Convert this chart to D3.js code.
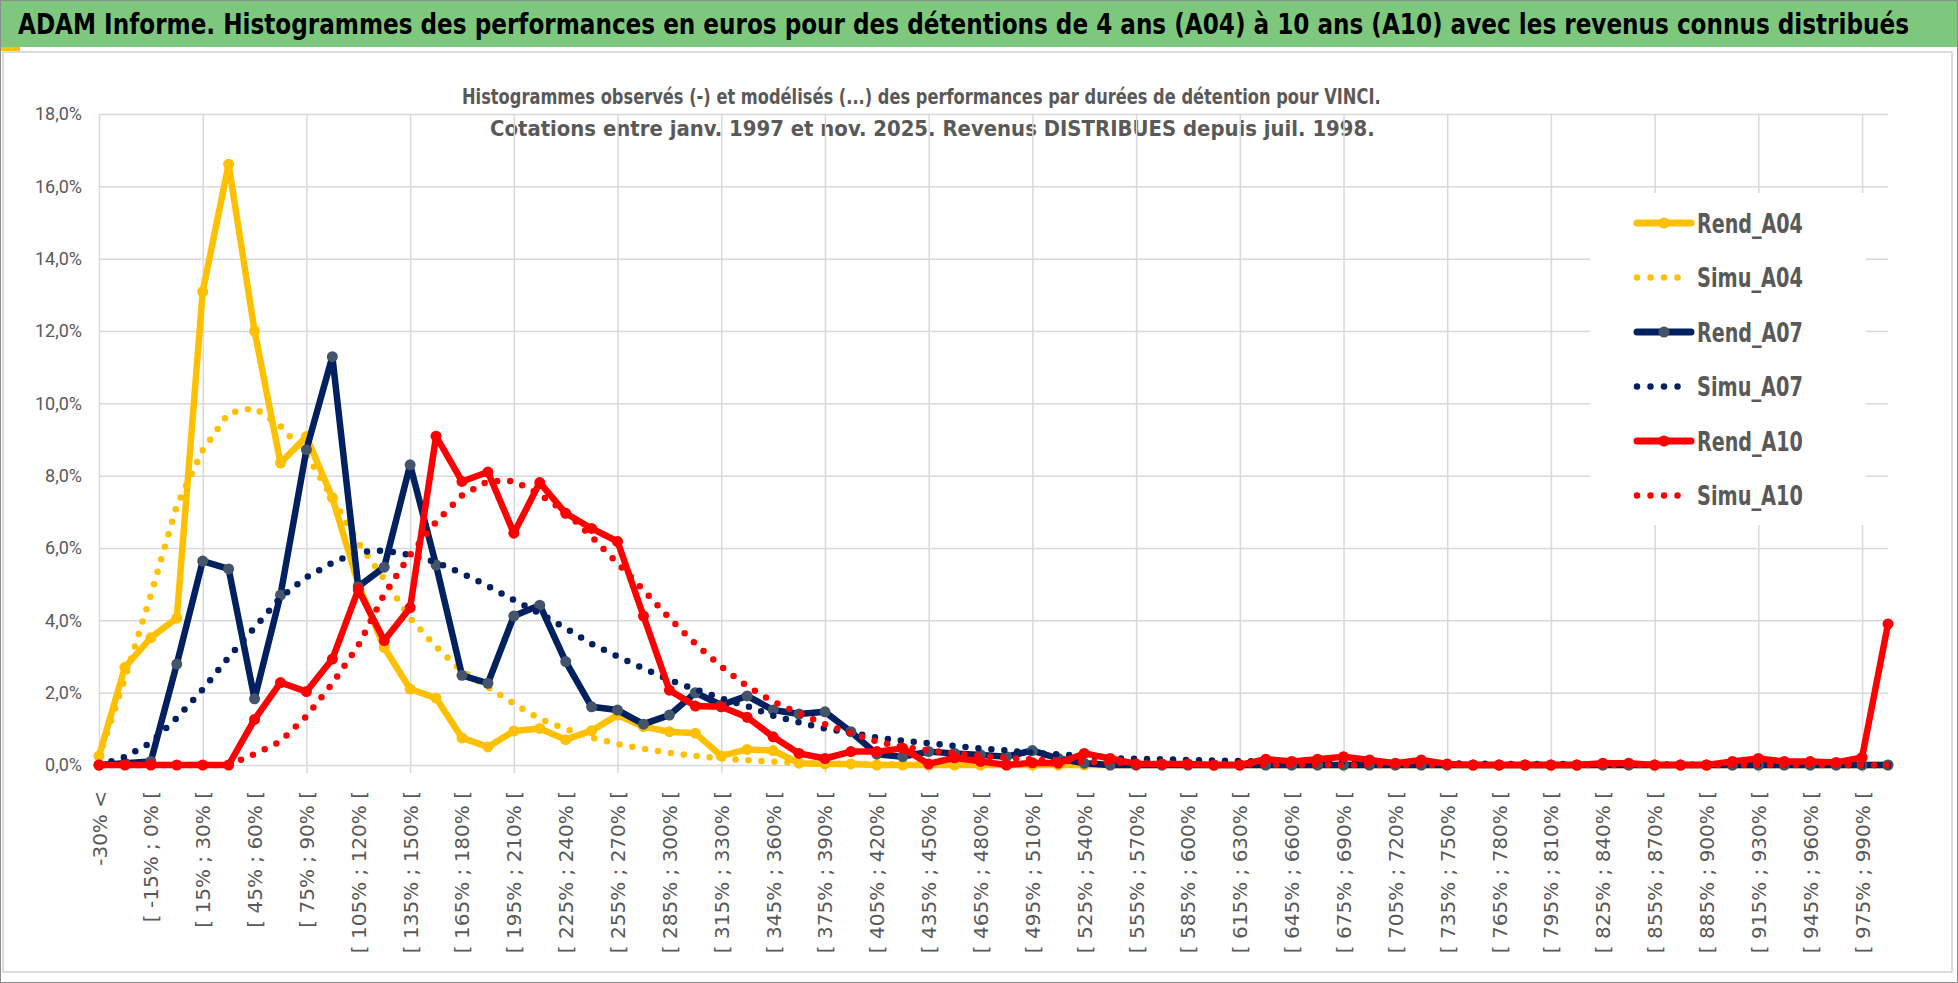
<!DOCTYPE html>
<meta charset="utf-8">
<script src="https://d3js.org/d3.v7.min.js"></script>
<style>
  body { margin: 0; background: #fff; }
</style>
<div id="my_dataviz"></div>
<script>

// categories (return classes, 15% wide)
var categories = [
  "-30% <", "[ -30% ; -15% [", "[ -15% ; 0% [", "[ 0% ; 15% [", "[ 15% ; 30% [",
  "[ 30% ; 45% [", "[ 45% ; 60% [", "[ 60% ; 75% [", "[ 75% ; 90% [", "[ 90% ; 105% [",
  "[ 105% ; 120% [", "[ 120% ; 135% [", "[ 135% ; 150% [", "[ 150% ; 165% [", "[ 165% ; 180% [",
  "[ 180% ; 195% [", "[ 195% ; 210% [", "[ 210% ; 225% [", "[ 225% ; 240% [", "[ 240% ; 255% [",
  "[ 255% ; 270% [", "[ 270% ; 285% [", "[ 285% ; 300% [", "[ 300% ; 315% [", "[ 315% ; 330% [",
  "[ 330% ; 345% [", "[ 345% ; 360% [", "[ 360% ; 375% [", "[ 375% ; 390% [", "[ 390% ; 405% [",
  "[ 405% ; 420% [", "[ 420% ; 435% [", "[ 435% ; 450% [", "[ 450% ; 465% [", "[ 465% ; 480% [",
  "[ 480% ; 495% [", "[ 495% ; 510% [", "[ 510% ; 525% [", "[ 525% ; 540% [", "[ 540% ; 555% [",
  "[ 555% ; 570% [", "[ 570% ; 585% [", "[ 585% ; 600% [", "[ 600% ; 615% [", "[ 615% ; 630% [",
  "[ 630% ; 645% [", "[ 645% ; 660% [", "[ 660% ; 675% [", "[ 675% ; 690% [", "[ 690% ; 705% [",
  "[ 705% ; 720% [", "[ 720% ; 735% [", "[ 735% ; 750% [", "[ 750% ; 765% [", "[ 765% ; 780% [",
  "[ 780% ; 795% [", "[ 795% ; 810% [", "[ 810% ; 825% [", "[ 825% ; 840% [", "[ 840% ; 855% [",
  "[ 855% ; 870% [", "[ 870% ; 885% [", "[ 885% ; 900% [", "[ 900% ; 915% [", "[ 915% ; 930% [",
  "[ 930% ; 945% [", "[ 945% ; 960% [", "[ 960% ; 975% [", "[ 975% ; 990% [", "> 990%"
];

// series values, in %
var rendA04 = [
  0.25, 2.7, 3.52, 4.06, 13.09, 16.61, 12.0, 8.35, 9.08, 7.39,
  5.0, 3.25, 2.1, 1.85, 0.75, 0.5, 0.94, 1.01, 0.7, 0.95,
  1.38, 1.06, 0.92, 0.88, 0.25, 0.43, 0.4, 0.05, 0.03, 0.03,
  0, 0, 0, 0, 0, 0, 0, 0, 0, 0,
  0, 0, 0, 0, 0, 0, 0, 0, 0, 0,
  0, 0, 0, 0, 0, 0, 0, 0, 0, 0,
  0, 0, 0, 0, 0, 0, 0, 0, 0, 0
];
var simuA04 = [
  0.2, 2.4, 4.7, 7.17, 8.7, 9.73, 9.87, 9.37, 8.58, 7.39,
  6.15, 5.14, 4.06, 3.27, 2.6, 2.15, 1.7, 1.27, 1.0, 0.76,
  0.58, 0.45, 0.34, 0.25, 0.18, 0.13, 0.09, 0.06, 0.04, 0.03,
  0.02, 0.02, 0.01, 0.01, 0.01, 0, 0, 0, 0, 0,
  0, 0, 0, 0, 0, 0, 0, 0, 0, 0,
  0, 0, 0, 0, 0, 0, 0, 0, 0, 0,
  0, 0, 0, 0, 0, 0, 0, 0, 0, 0
];
var rendA07 = [
  0, 0.05, 0.1, 2.79, 5.64, 5.42, 1.83, 4.7, 8.72, 11.29,
  4.93, 5.47, 8.3, 5.53, 2.48, 2.26, 4.12, 4.42, 2.86, 1.61,
  1.52, 1.13, 1.38, 2.0, 1.66, 1.91, 1.52, 1.41, 1.47, 0.92,
  0.3, 0.23, 0.37, 0.32, 0.28, 0.23, 0.4, 0.18, 0.05, 0,
  0, 0, 0, 0, 0, 0, 0, 0, 0, 0,
  0, 0, 0, 0, 0, 0, 0, 0, 0, 0,
  0, 0, 0, 0, 0, 0, 0, 0, 0, 0
];
var simuA07 = [
  0, 0.22, 0.62, 1.3, 2.09, 2.98, 3.8, 4.63, 5.19, 5.59,
  5.89, 5.93, 5.81, 5.61, 5.3, 4.95, 4.56, 4.19, 3.78, 3.35,
  3.0, 2.67, 2.35, 2.09, 1.84, 1.63, 1.36, 1.18, 1.01, 0.89,
  0.76, 0.67, 0.6, 0.53, 0.46, 0.4, 0.34, 0.29, 0.25, 0.19,
  0.17, 0.16, 0.14, 0.12, 0.11, 0.1, 0.09, 0.08, 0.07, 0.06,
  0.05, 0.05, 0.04, 0.04, 0.03, 0.03, 0.03, 0.02, 0.02, 0.02,
  0.02, 0.01, 0.01, 0.01, 0.01, 0.01, 0.01, 0, 0, 0
];
var rendA10 = [
  0, 0, 0, 0, 0, 0, 1.26, 2.28, 2.03, 2.93,
  4.85, 3.44, 4.35, 9.09, 7.84, 8.1, 6.41, 7.81, 6.96, 6.54,
  6.18, 4.12, 2.07, 1.63, 1.61, 1.32, 0.78, 0.32, 0.18, 0.37,
  0.37, 0.46, 0.03, 0.2, 0.1, 0, 0.06, 0.05, 0.32, 0.18,
  0.03, 0.03, 0.03, 0, 0, 0.16, 0.1, 0.16, 0.23, 0.14,
  0.05, 0.14, 0.03, 0, 0, 0, 0, 0, 0.05, 0.05,
  0, 0, 0, 0.1, 0.18, 0.1, 0.1, 0.07, 0.21, 3.9
];
var simuA10 = [
  0, 0, 0, 0, 0, 0, 0.3, 0.65, 1.35, 2.25,
  3.3, 4.72, 5.81, 6.72, 7.45, 7.85, 7.85, 7.48, 7.0, 6.31,
  5.58, 4.84, 4.06, 3.35, 2.72, 2.18, 1.75, 1.43, 1.13, 0.88,
  0.65, 0.5, 0.4, 0.33, 0.25, 0.2, 0.15, 0.12, 0.09, 0.07,
  0.05, 0.04, 0.03, 0.02, 0.02, 0.01, 0.01, 0.01, 0, 0,
  0, 0, 0, 0, 0, 0, 0, 0, 0, 0,
  0, 0, 0, 0, 0, 0, 0, 0, 0, 0
];

// y axis tick values (%)
var yTicks = [0, 2, 4, 6, 8, 10, 12, 14, 16, 18];

var titleText = "ADAM Informe. Histogrammes des performances en euros pour des détentions de 4 ans (A04) à 10 ans (A10) avec les revenus connus distribués";
var subTitle1 = "Histogrammes observés (-) et modélisés (...) des performances par durées de détention pour VINCI.";
var subTitle2 = "Cotations entre janv. 1997 et nov. 2025. Revenus DISTRIBUES depuis juil. 1998.";

var series = [
  {name: "Rend_A04", values: rendA04, color: "#FFC000", marker: "#FFC000", dotted: false},
  {name: "Simu_A04", values: simuA04, color: "#FFC000", dotted: true},
  {name: "Rend_A07", values: rendA07, color: "#002060", marker: "#44546A", dotted: false},
  {name: "Simu_A07", values: simuA07, color: "#002060", dotted: true},
  {name: "Rend_A10", values: rendA10, color: "#FF0000", marker: "#FF0000", dotted: false},
  {name: "Simu_A10", values: simuA10, color: "#FF0000", dotted: true}
];

var width = 1958, height = 983;
var plot = {left: 99, right: 1888, top: 114, bottom: 765};
var narrow = "'Liberation Sans Narrow', 'DejaVu Sans Condensed', sans-serif";
var grey = "#595959";

var svg = d3.select("#my_dataviz")
  .append("svg")
    .attr("width", width)
    .attr("height", height);

svg.append("rect").attr("width", width).attr("height", height).attr("fill", "#fff");

// squeeze a text horizontally so it takes exactly w pixels
function fitWidth(t, tx, ty, w) {
  var natural = t.node().getComputedTextLength();
  t.attr("transform", "translate(" + tx + "," + ty + ") scale(" + (w / natural) + ",1)");
}

// title bar
svg.append("rect")
  .attr("x", 0).attr("y", 1).attr("width", width).attr("height", 46)
  .attr("fill", "#7dc87d");
svg.append("rect")
  .attr("x", 0).attr("y", 47).attr("width", 20).attr("height", 4)
  .attr("fill", "#FFC000");
var title = svg.append("text")
  .style("font", "bold 28px " + narrow)
  .style("fill", "#000")
  .text(titleText);
fitWidth(title, 18, 34, 1892);

// chart area frame
svg.append("rect")
  .attr("x", 3).attr("y", 52).attr("width", 1949).attr("height", 920)
  .attr("fill", "none").attr("stroke", "#d0d0d0").attr("stroke-width", 1.5);
svg.append("rect")
  .attr("x", 0.5).attr("y", 0.5).attr("width", width - 1).attr("height", height - 1)
  .attr("fill", "none").attr("stroke", "#8c8c8c").attr("stroke-width", 1);

// chart title
var sub1 = svg.append("text")
  .style("font", "bold 22px " + narrow).style("fill", grey)
  .text(subTitle1);
fitWidth(sub1, 462, 104, 919);
var sub2 = svg.append("text")
  .style("font", "bold 22px " + narrow).style("fill", grey)
  .text(subTitle2);
fitWidth(sub2, 490, 136, 885);

// scales
var x = d3.scalePoint()
  .domain(categories)
  .range([plot.left, plot.right]);
var y = d3.scaleLinear()
  .domain([0, 18])
  .range([plot.bottom, plot.top]);

// horizontal gridlines
svg.append("g")
  .attr("transform", "translate(" + plot.left + ",0)")
  .call(d3.axisLeft(y).tickValues(yTicks).tickSize(-(plot.right - plot.left)).tickFormat(""))
  .call(function(g) { g.select(".domain").remove(); })
  .selectAll("line").attr("stroke", "#d9d9d9").attr("stroke-width", 1.5);

// vertical gridlines, every 4 classes
svg.append("g")
  .attr("transform", "translate(0," + (plot.bottom + 8) + ")")
  .call(d3.axisBottom(x)
    .tickValues(categories.filter(function(d, i) { return i % 4 === 0; }))
    .tickSize(-(plot.bottom + 8 - plot.top))
    .tickFormat(""))
  .call(function(g) { g.select(".domain").remove(); })
  .selectAll("line").attr("stroke", "#d9d9d9").attr("stroke-width", 1.5);

// y labels
svg.append("g")
  .attr("transform", "translate(" + plot.left + ",0)")
  .call(d3.axisLeft(y).tickValues(yTicks).tickSize(0).tickPadding(17)
    .tickFormat(function(d) { return d.toFixed(1).replace(".", ",") + "%"; }))
  .call(function(g) { g.select(".domain").remove(); })
  .selectAll("text")
    .style("font", "18px Roboto")
    .style("fill", grey);

// x labels, one class out of two
svg.append("g")
  .attr("transform", "translate(0,791)")
  .call(d3.axisBottom(x)
    .tickValues(categories.filter(function(d, i) { return i % 2 === 0; }))
    .tickSize(0))
  .call(function(g) { g.select(".domain").remove(); })
  .selectAll("text")
    .attr("x", 0).attr("y", 0).attr("dy", "0.35em")
    .attr("transform", "rotate(-90)")
    .attr("text-anchor", "end")
    .style("font", "20px 'DejaVu Sans'")
    .style("fill", grey);

// lines and markers
var line = d3.line()
  .x(function(d, i) { return x(categories[i]); })
  .y(function(d) { return y(d); });

series.forEach(function(s) {
  var path = svg.append("path")
    .datum(s.values)
    .attr("fill", "none")
    .attr("stroke", s.color)
    .attr("d", line);
  if (s.dotted) {
    path.attr("stroke-width", 6.5)
      .attr("stroke-linecap", "round")
      .style("stroke-dasharray", "0, 13");
  } else {
    path.attr("stroke-width", 6.5)
      .attr("stroke-linejoin", "round");
    svg.selectAll(null)
      .data(s.values)
      .enter()
      .append("circle")
        .attr("cx", function(d, i) { return x(categories[i]); })
        .attr("cy", function(d) { return y(d); })
        .attr("r", 5.5)
        .attr("fill", s.marker);
  }
});

// legend (manual, on white box)
svg.append("rect")
  .attr("x", 1590).attr("y", 193).attr("width", 276).attr("height", 332)
  .style("fill", "white");

series.forEach(function(s, i) {
  var ly = 223 + i * 54.5;
  var l = svg.append("line")
    .attr("x1", 1637).attr("x2", 1691)
    .attr("y1", ly).attr("y2", ly)
    .style("stroke", s.color);
  if (s.dotted) {
    l.attr("stroke-width", 6.5).attr("stroke-linecap", "round").style("stroke-dasharray", "0, 13.5");
  } else {
    l.attr("stroke-width", 7).attr("stroke-linecap", "round");
    svg.append("circle").attr("cx", 1664).attr("cy", ly).attr("r", 5.5).attr("fill", s.marker);
  }
  var lt = svg.append("text")
    .attr("dy", "0.36em")
    .style("font", "bold 27px " + narrow)
    .style("fill", grey)
    .text(s.name);
  fitWidth(lt, 1697, ly, 106);
});

</script>
